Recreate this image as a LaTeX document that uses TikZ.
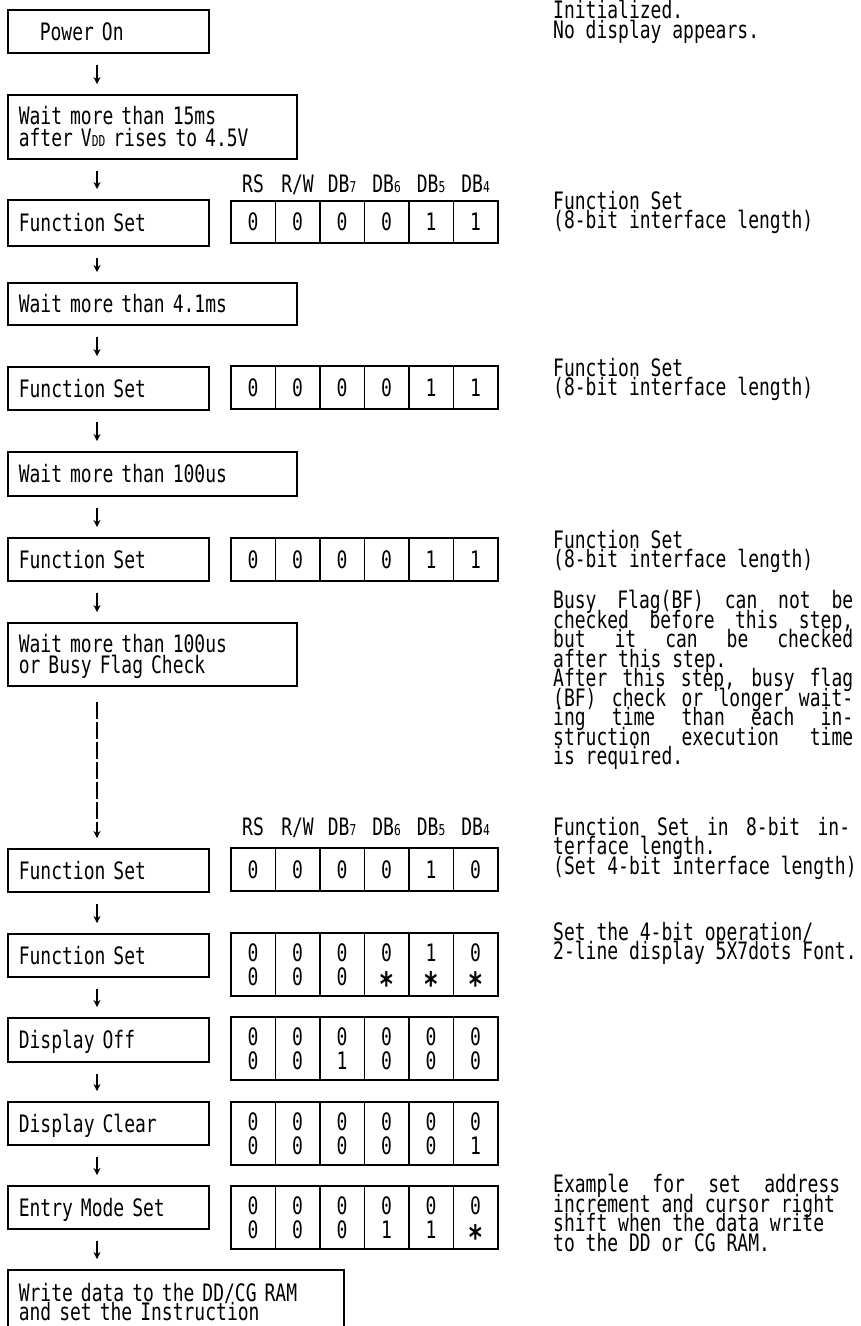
\documentclass[tikz,border=0pt]{standalone}
\usepackage{fontspec}
\usepackage{graphicx}
\usetikzlibrary{arrows.meta,positioning}
\newfontfamily\gothic[FakeStretch=0.75]{DejaVu Sans Mono}
\newcommand\gfont[1]{\gothic\fontsize{24}{#1}\selectfont\lineskiplimit=-30pt\relax}
\newcommand\sbs[1]{{\fontsize{15}{15}\selectfont #1}}
\newcommand\jl[2][300pt]{\makebox[#1][s]{\spaceskip=\fontdimen2\font plus 1fil\relax #2}}
\newcommand\tw[2]{#1\\#2}
\newcommand\dc{\smash{\raisebox{-11pt}{\scalebox{1.4}{\bfseries *}}}}
\newcommand\bitrow[4]{%
  \foreach \v [count=\i] in {#4}
    \node[cell,minimum height=#3] (#1-\i) at ({230+(\i-1)*44.5},#2) {\v};}

\begin{document}
\begin{tikzpicture}[x=1pt,y=-1pt,
  every node/.style={font=\gfont{21.5}},
  box/.style={draw,line width=1.6pt,anchor=north west,minimum height=44pt,align=left,inner xsep=11pt,text height=17.5pt,text depth=0pt},
  short/.style={box,minimum width=201pt,text width=179pt},
  long/.style={box,minimum width=289pt,text width=267pt},
  cell/.style={draw,line width=1.6pt,anchor=north west,minimum width=44.5pt,inner sep=0pt,align=center,text depth=0pt,font=\gfont{24}},
  lbl/.style={inner sep=0pt,text depth=0pt},
  note/.style={anchor=north west,inner sep=0pt,align=left,font=\gfont{19.5}},
  flow/.style={line width=1.5pt,-{Stealth[length=7pt,width=7pt]},shorten <=11pt,shorten >=10pt}]
\fill[white] (0,0) rectangle (861,1326);
\useasboundingbox (0,0) rectangle (861,1326);
\clip (0,0) rectangle (861,1326);
\coordinate (ax) at (97,0);

% left column
\node[short,minimum height=43pt] (pwr) at (7,9) {\hspace*{21pt}Power On};
\node[long,minimum height=64pt,text depth=21.5pt] (wt1) at (7,94) {Wait more than 15ms\\after V\sbs{DD} rises to 4.5V};
\node[short,minimum height=46pt] (fs1) at (7,199) {Function Set};
\node[long,minimum height=42pt] (wt2) at (7,282) {Wait more than 4.1ms};
\node[short,minimum height=43pt] (fs2) at (7,366) {Function Set};
\node[long] (wt3) at (7,451) {Wait more than 100us};
\node[short,minimum height=43pt] (fs3) at (7,537) {Function Set};
\node[long,minimum height=63pt,text depth=21.5pt] (wt4) at (7,622) {Wait more than 100us\\or Busy Flag Check};
\node[short,minimum height=43pt] (fs4) at (7,848) {Function Set};
\node[short,minimum height=43pt] (fs5) at (7,933) {Function Set};
\node[short] (doff) at (7,1017) {Display Off};
\node[short,minimum height=43pt] (dclr) at (7,1101) {Display Clear};
\node[short,minimum height=43pt] (ems) at (7,1185) {Entry Mode Set};
\node[long,minimum width=336pt,text width=314pt,minimum height=65pt,text depth=19.5pt,font=\gfont{19.5}] (wrt) at (7,1269) {Write data to the DD/CG RAM\\and set the Instruction};

% bits
\bitrow{b1}{200}{42pt}{0,0,0,0,1,1}
\bitrow{b2}{365}{43pt}{0,0,0,0,1,1}
\bitrow{b3}{537}{43pt}{0,0,0,0,1,1}
\bitrow{b4}{847}{43pt}{0,0,0,0,1,0}
\bitrow{b5}{932}{63pt}{\tw00,\tw00,\tw00,\tw0\dc,\tw1\dc,\tw0\dc}
\bitrow{b6}{1016}{63pt}{\tw00,\tw00,\tw01,\tw00,\tw00,\tw00}
\bitrow{b7}{1101}{63pt}{\tw00,\tw00,\tw00,\tw00,\tw00,\tw01}
\bitrow{b8}{1185}{63pt}{\tw00,\tw00,\tw00,\tw01,\tw01,\tw0\dc}
\foreach \t [count=\i] in {RS,R/W,DB\sbs7,DB\sbs6,DB\sbs5,DB\sbs4}
  \node[lbl,above=7pt of b1-\i] (h1-\i) {\t};
\foreach \t [count=\i] in {RS,R/W,DB\sbs7,DB\sbs6,DB\sbs5,DB\sbs4}
  \node[lbl,above=11pt of b4-\i] (h4-\i) {\t};

% notes
\node[note] (n1) at (553,0) {Initialized.\\No display appears.};
\node[note] (n2) at (553,191) {Function Set\\(8-bit interface length)};
\node[note] (n3) at (553,358) {Function Set\\(8-bit interface length)};
\node[note] (n4) at (553,530) {Function Set\\(8-bit interface length)};
\node[note] (n5) at (553,590) {\jl{Busy Flag(BF) can not be}\\\jl{checked before this step,}\\\jl{but it can be checked}\\after this step.\\\jl{After this step, busy flag}\\\jl{(BF) check or longer wait-}\\\jl{ing time than each in-}\\\jl{struction execution time}\\is required.};
\node[note] (n6) at (553,817) {\jl[297pt]{Function Set in 8-bit in-}\\terface length.\\(Set 4-bit interface length)};
\node[note] (n7) at (553,922) {Set the 4-bit operation/\\2-line display 5X7dots Font.};
\node[note] (n8) at (553,1174) {\jl[287pt]{Example for set address}\\increment and cursor right\\shift when the data write\\to the DD or CG RAM.};

% arrows
\draw[flow] (pwr.south -| ax)--(wt1.north -| ax);
\draw[flow] (wt1.south -| ax)--(fs1.north -| ax);
\draw[flow] (fs1.south -| ax)--(wt2.north -| ax);
\draw[flow] (wt2.south -| ax)--(fs2.north -| ax);
\draw[flow] (fs2.south -| ax)--(wt3.north -| ax);
\draw[flow] (wt3.south -| ax)--(fs3.north -| ax);
\draw[flow] (fs3.south -| ax)--(wt4.north -| ax);
\draw[flow,dash pattern=on 17pt off 3pt,shorten <=15pt] (wt4.south -| ax)--(fs4.north -| ax);
\draw[flow] (fs4.south -| ax)--(fs5.north -| ax);
\draw[flow] (fs5.south -| ax)--(doff.north -| ax);
\draw[flow] (doff.south -| ax)--(dclr.north -| ax);
\draw[flow] (dclr.south -| ax)--(ems.north -| ax);
\draw[flow] (ems.south -| ax)--(wrt.north -| ax);
\end{tikzpicture}
\end{document}
